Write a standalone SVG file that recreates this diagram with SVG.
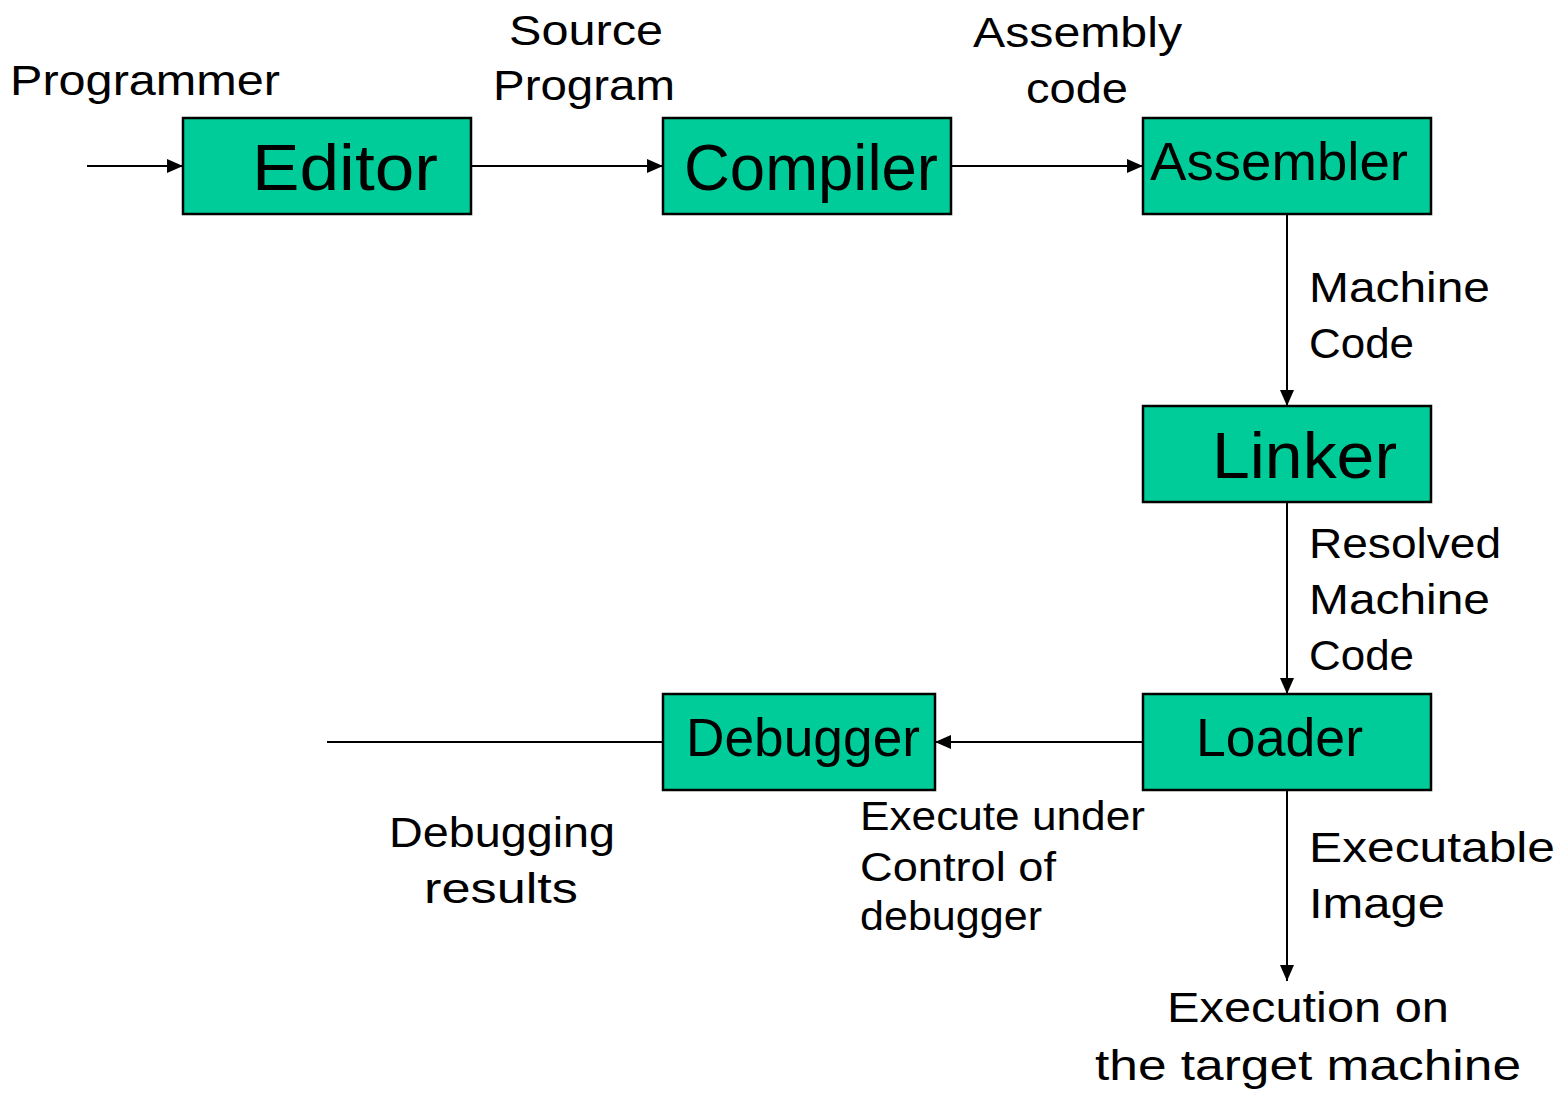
<svg xmlns="http://www.w3.org/2000/svg" width="1565" height="1095" viewBox="0 0 1565 1095">
  <style>
    .box { fill: #00CC99; stroke: #000; stroke-width: 2.5; }
    .wire { fill: none; stroke: #000; stroke-width: 2; }
    text { font-family: "Comic Sans MS", "Liberation Sans", "DejaVu Sans", sans-serif; fill: #000; }
    .big { font-size: 64px; }
    .mid { font-size: 53px; }
    .lbl { font-size: 43px; }
    .sm { font-size: 40px; }
  </style>
  <defs>
    <marker id="head" markerUnits="userSpaceOnUse" markerWidth="16" markerHeight="14" refX="16" refY="7" orient="auto">
      <path d="M0,0 L16,7 L0,14 Z" fill="#000"/>
    </marker>
  </defs>
  <rect width="1565" height="1095" fill="#fff"/>

  <!-- connectors -->
  <g id="connectors">
    <line class="wire" x1="87" y1="166" x2="183" y2="166" marker-end="url(#head)"/>
    <line class="wire" x1="471" y1="166" x2="663" y2="166" marker-end="url(#head)"/>
    <line class="wire" x1="951" y1="166" x2="1143" y2="166" marker-end="url(#head)"/>
    <line class="wire" x1="1287" y1="214" x2="1287" y2="406" marker-end="url(#head)"/>
    <line class="wire" x1="1287" y1="502" x2="1287" y2="694" marker-end="url(#head)"/>
    <line class="wire" x1="1143" y1="742" x2="935" y2="742" marker-end="url(#head)"/>
    <line class="wire" x1="663" y1="742" x2="327" y2="742"/>
    <line class="wire" x1="1287" y1="790" x2="1287" y2="981" marker-end="url(#head)"/>
  </g>

  <!-- stages -->
  <g id="editor">
    <rect class="box" x="183" y="118" width="288" height="96"/>
    <text class="big" x="252" y="190" textLength="186" lengthAdjust="spacingAndGlyphs">Editor</text>
  </g>
  <g id="compiler">
    <rect class="box" x="663" y="118" width="288" height="96"/>
    <text class="big" x="684" y="190" textLength="254" lengthAdjust="spacingAndGlyphs">Compiler</text>
  </g>
  <g id="assembler">
    <rect class="box" x="1143" y="118" width="288" height="96"/>
    <text class="mid" x="1150" y="180" textLength="258" lengthAdjust="spacingAndGlyphs">Assembler</text>
  </g>
  <g id="linker">
    <rect class="box" x="1143" y="406" width="288" height="96"/>
    <text class="big" x="1212" y="478" textLength="185" lengthAdjust="spacingAndGlyphs">Linker</text>
  </g>
  <g id="loader">
    <rect class="box" x="1143" y="694" width="288" height="96"/>
    <text class="mid" x="1196" y="756" textLength="167" lengthAdjust="spacingAndGlyphs">Loader</text>
  </g>
  <g id="debugger">
    <rect class="box" x="663" y="694" width="272" height="96"/>
    <text class="mid" x="686" y="756" textLength="234" lengthAdjust="spacingAndGlyphs">Debugger</text>
  </g>

  <!-- edge labels -->
  <g id="labels">
    <text class="lbl" x="10" y="95" textLength="270" lengthAdjust="spacingAndGlyphs">Programmer</text>
    <text class="lbl" x="509" y="45" textLength="154" lengthAdjust="spacingAndGlyphs">Source</text>
    <text class="lbl" x="493" y="100" textLength="182" lengthAdjust="spacingAndGlyphs">Program</text>
    <text class="lbl" x="973" y="47" textLength="209" lengthAdjust="spacingAndGlyphs">Assembly</text>
    <text class="lbl" x="1026" y="103" textLength="102" lengthAdjust="spacingAndGlyphs">code</text>

    <text class="lbl" x="1309" y="302" textLength="181" lengthAdjust="spacingAndGlyphs">Machine</text>
    <text class="lbl" x="1309" y="358" textLength="105" lengthAdjust="spacingAndGlyphs">Code</text>

    <text class="lbl" x="1309" y="558" textLength="192" lengthAdjust="spacingAndGlyphs">Resolved</text>
    <text class="lbl" x="1309" y="614" textLength="181" lengthAdjust="spacingAndGlyphs">Machine</text>
    <text class="lbl" x="1309" y="670" textLength="105" lengthAdjust="spacingAndGlyphs">Code</text>

    <text class="sm" x="860" y="830" textLength="285" lengthAdjust="spacingAndGlyphs">Execute under</text>
    <text class="sm" x="860" y="881" textLength="196" lengthAdjust="spacingAndGlyphs">Control of</text>
    <text class="sm" x="860" y="930" textLength="182" lengthAdjust="spacingAndGlyphs">debugger</text>

    <text class="lbl" x="389" y="847" textLength="226" lengthAdjust="spacingAndGlyphs">Debugging</text>
    <text class="lbl" x="424" y="903" textLength="154" lengthAdjust="spacingAndGlyphs">results</text>

    <text class="lbl" x="1309" y="862" textLength="246" lengthAdjust="spacingAndGlyphs">Executable</text>
    <text class="lbl" x="1309" y="918" textLength="136" lengthAdjust="spacingAndGlyphs">Image</text>

    <text class="lbl" x="1167" y="1022" textLength="282" lengthAdjust="spacingAndGlyphs">Execution on</text>
    <text class="lbl" x="1095" y="1080" textLength="426" lengthAdjust="spacingAndGlyphs">the target machine</text>
  </g>
</svg>
